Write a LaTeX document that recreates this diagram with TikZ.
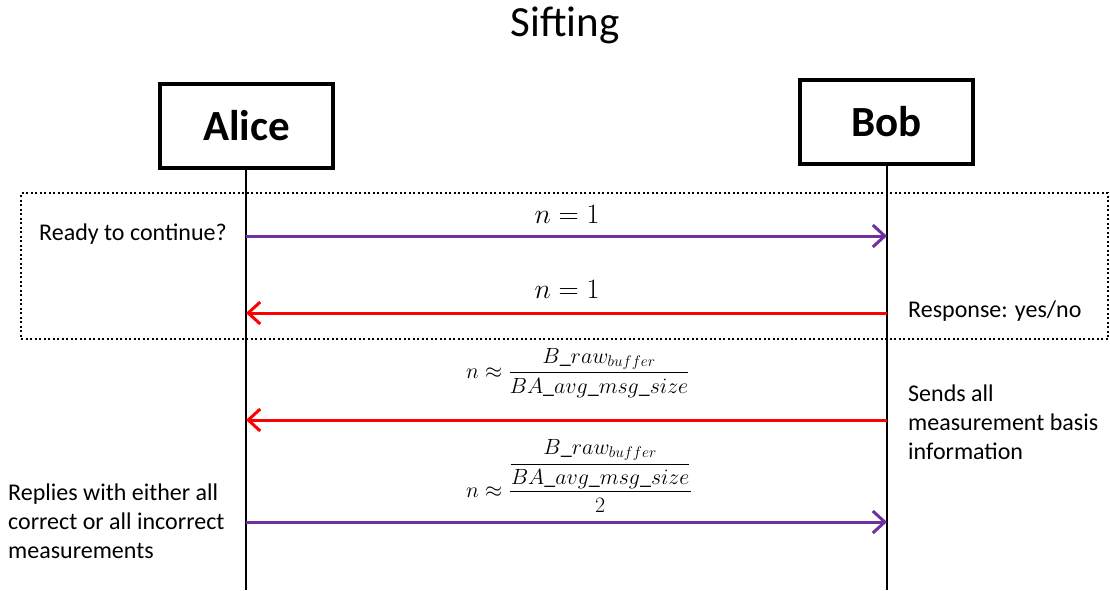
\RequirePackage{fix-cm}
\documentclass[tikz,border=0pt]{standalone}
\usepackage{amsmath}
\usepackage{fontspec}
\setmainfont{Carlito}
\usetikzlibrary{arrows.meta}
\definecolor{msgpurple}{RGB}{112,48,160}
\definecolor{msgred}{RGB}{255,0,0}
\begin{document}
\begin{tikzpicture}[x=1pt,y=-1pt,
  actor/.style={draw, line width=4pt, minimum width=173pt, minimum height=84pt, inner sep=0pt, font=\fontsize{43}{50}\selectfont\bfseries},
  life/.style={line width=2.5pt},
  msgp/.style={draw=msgpurple, line width=3pt, -{Straight Barb[length=12pt,width=22pt]}},
  msgr/.style={draw=msgred, line width=3pt, -{Straight Barb[length=12pt,width=22pt]}},
  note/.style={inner sep=0pt, align=left, font=\fontsize{24}{29}\selectfont},
  eqbig/.style={inner sep=0pt, font=\fontsize{28}{34}\selectfont},
  eqsmall/.style={inner sep=0pt, font=\fontsize{22}{27}\selectfont},
  frame/.style={draw, line width=2pt, dash pattern=on 2pt off 2.5pt, minimum width=1087pt, minimum height=146pt, inner sep=0pt}
]
\useasboundingbox (0,0) rectangle (1110,590);

\node[inner sep=0pt, anchor=base, font=\fontsize{43}{50}\selectfont] (title) at (565,36) {Sifting};

\node[actor] (alice) at (246.5,126) {Alice};
\node[actor] (bob) at (886.5,122) {Bob};

\node[frame] (loop) at (564.5,266) {};

\coordinate (aend) at (246,590);
\coordinate (bend) at (887,590);
\draw[life] (alice.south -| aend) -- (aend);
\draw[life] (bob.south -| bend) -- (bend);

\coordinate (a1) at (246,236); \coordinate (b1) at (887,236);
\coordinate (a2) at (246,313); \coordinate (b2) at (887,313);
\coordinate (a3) at (246,420); \coordinate (b3) at (887,420);
\coordinate (a4) at (246,522); \coordinate (b4) at (887,522);

\draw[msgp] (a1) -- (b1);
\draw[msgr] (b2) -- (a2);
\draw[msgr] (b3) -- (a3);
\draw[msgp] (a4) -- (b4);

\node[eqbig] (l1) at (567,214) {$n=1$};
\node[eqbig] (l2) at (567,289) {$n=1$};
\node[eqsmall, anchor=west] (l3) at (466,373) {$n\approx\dfrac{B\_raw_{buffer}}{BA\_avg\_msg\_size}$};
\node[eqsmall, anchor=west] (l4) at (466,476) {$n\approx\dfrac{\dfrac{B\_raw_{buffer}}{BA\_avg\_msg\_size}}{2}$};

\node[note, anchor=west] (t1) at (39,234) {Ready to continue?};
\node[note, anchor=west] (t2) at (908,311) {Response: yes/no};
\node[note, anchor=west] (t3) at (908,422) {Sends all\\measurement basis\\information};
\node[note, anchor=west] (t4) at (8,521) {Replies with either all\\correct or all incorrect\\measurements};
\end{tikzpicture}
\end{document}
